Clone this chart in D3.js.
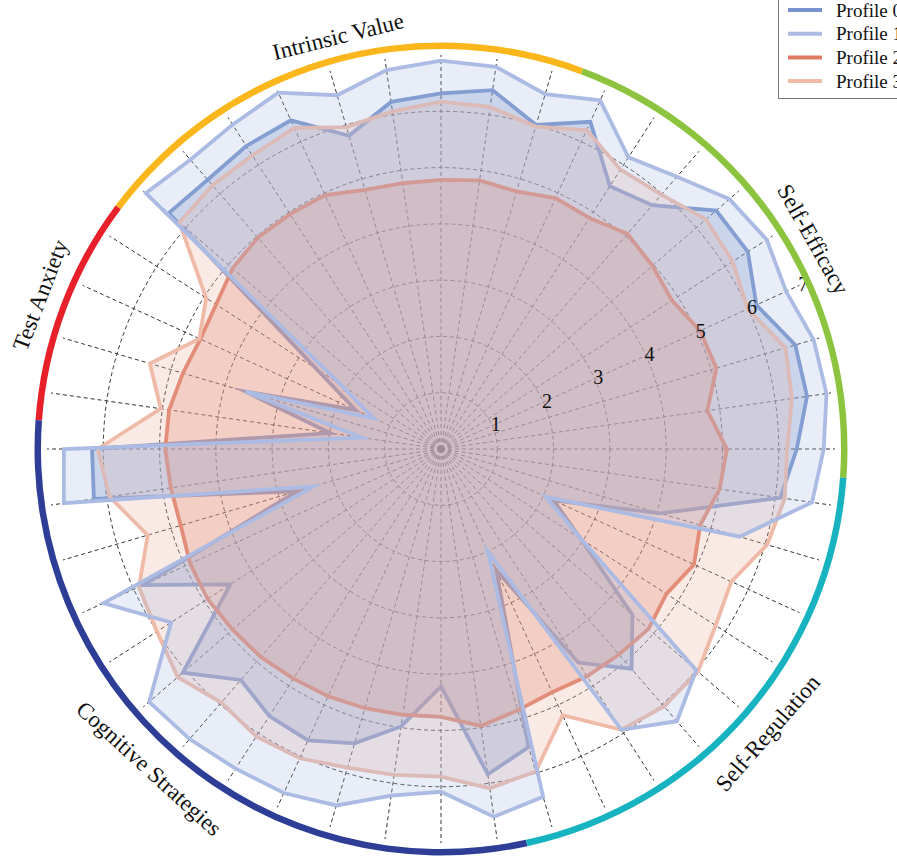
<!DOCTYPE html>
<meta charset="utf-8">
<script src="https://d3js.org/d3.v7.min.js"></script>
<html>
  <head>
    <style>
    body { margin: 0; background: #fff; }
    text { font-family: "Liberation Serif", "DejaVu Serif", serif; fill: #111; }
    </style>
  </head>
  <body>
    <div id="my_dataviz"></div>
  </body>
</html>
<script>

// scale groups, counter-clockwise from the east spoke
var groups = ["Self-Efficacy", "Intrinsic Value", "Test Anxiety", "Cognitive Strategies", "Self-Regulation"];
var groupSizes = [9, 9, 4, 13, 9];
var groupColors = ["#8cc43f", "#fbb61b", "#e8202a", "#2e3e97", "#17b3c1"];

var profiles = ["Profile 0", "Profile 1", "Profile 2", "Profile 3"];
var profileColors = ["#7893cd", "#abbbe3", "#df7a63", "#efbaa8"];
var fillAlpha = [0.3, 0.27, 0.3, 0.3];

var rTicks = [1, 2, 3, 4, 5, 6, 7];

// item means per profile (44 items)
var p0 = [6.32, 6.57, 6.56, 6.16, 6.48, 6.47, 5.73, 5.55, 6.39,
          6.00, 6.44, 6.32, 6.23, 5.80, 6.42, 6.40, 6.33, 6.40,
          2.63, 1.67, 3.62, 1.99,
          6.20, 6.23, 2.67, 5.82, 4.45, 6.07, 5.43, 5.64, 5.69, 5.45, 4.98, 4.22, 5.84,
          5.52, 2.37, 4.51, 5.17, 4.50, 2.95, 2.20, 4.06, 6.09];
var p1 = [6.80, 6.92, 6.90, 6.74, 6.88, 6.78, 6.40, 6.16, 6.81,
          6.57, 6.86, 6.90, 6.80, 6.55, 6.96, 6.85, 6.80, 6.94,
          2.14, 1.32, 3.62, 1.42,
          6.70, 6.77, 2.36, 6.59, 5.70, 6.86, 6.82, 6.75, 6.72, 6.60, 6.22, 6.09, 6.60,
          6.44, 2.00, 5.93, 6.40, 6.00, 2.96, 2.05, 5.53, 6.66];
var p2 = [5.08, 4.78, 5.10, 5.06, 4.88, 4.97, 5.06, 4.88, 4.90,
          4.77, 4.82, 4.78, 4.77, 4.80, 4.96, 4.96, 4.97, 4.90,
          4.75, 4.70, 4.78, 4.88,
          4.90, 4.85, 4.82, 4.90, 4.93, 4.90, 4.89, 4.85, 4.83, 4.80, 4.77, 4.76, 4.97,
          4.84, 4.75, 4.80, 4.83, 4.88, 4.76, 4.94, 4.80, 5.00];
var p3 = [6.15, 6.30, 6.38, 5.99, 6.16, 6.23, 5.98, 5.90, 6.23,
          5.97, 6.14, 6.17, 6.06, 5.96, 6.27, 6.20, 6.20, 6.15,
          4.96, 4.72, 5.39, 5.03,
          6.10, 5.95, 5.43, 5.90, 6.00, 6.19, 5.96, 6.07, 6.04, 5.90, 5.85, 5.82, 6.09,
          5.97, 5.20, 5.93, 6.05, 6.04, 5.80, 5.67, 6.04, 6.17];

var data = [p0, p1, p2, p3];
var drawOrder = [0, 2, 3, 1];

var width = 897, height = 856;
var cx = 441, cy = 449;
var nItems = d3.sum(groupSizes);
var step = 2 * Math.PI / nItems;

var svg = d3.select("#my_dataviz")
  .append("svg")
    .attr("width", width)
    .attr("height", height);

var g = svg.append("g")
    .attr("transform", "translate(" + cx + "," + cy + ")");

// radius scale
var r = d3.scaleLinear()
  .domain([0, 7])
  .range([0, 394]);

// d3 angle (clockwise from 12 o'clock) of item i
var ang = function(i) { return Math.PI / 2 - i * step; };

// ---------------------------//
//         GRID               //
// ---------------------------//
g.append("g")
  .selectAll("circle")
  .data(rTicks.slice(0, 6))
  .enter()
  .append("circle")
    .attr("r", function(d) { return r(d); })
    .style("fill", "none")
    .style("stroke", "#333")
    .style("stroke-width", 1)
    .style("stroke-dasharray", "4,3");

g.append("g")
  .selectAll("line")
  .data(d3.range(nItems))
  .enter()
  .append("line")
    .attr("x1", 0).attr("y1", 0)
    .attr("x2", function(i) { return r(7) * Math.sin(ang(i)); })
    .attr("y2", function(i) { return -r(7) * Math.cos(ang(i)); })
    .style("stroke", "#333")
    .style("stroke-width", 1)
    .style("stroke-dasharray", "4,3");

// ---------------------------//
//         PROFILES           //
// ---------------------------//
var radar = d3.lineRadial()
  .angle(function(d, i) { return ang(i); })
  .radius(function(d) { return r(d); })
  .curve(d3.curveLinearClosed);

drawOrder.forEach(function(p) {
  g.append("path")
    .attr("d", radar(data[p]))
    .style("fill", profileColors[p])
    .style("fill-opacity", fillAlpha[p])
    .style("stroke", "none");
  g.append("path")
    .attr("d", radar(data[p]))
    .style("fill", "none")
    .style("stroke", profileColors[p])
    .style("stroke-width", 3.8)
    .style("stroke-linejoin", "miter")
    .style("stroke-miterlimit", 10);
});

// radial tick labels
var labAng = 24.5 * Math.PI / 180;
g.append("g")
  .selectAll("text")
  .data(rTicks)
  .enter()
  .append("text")
    .attr("x", function(d) { return (r(d) + 4) * Math.cos(labAng); })
    .attr("y", function(d) { return -(r(d) + 4) * Math.sin(labAng); })
    .attr("text-anchor", "middle")
    .attr("dominant-baseline", "central")
    .style("font-size", "20px")
    .text(function(d) { return d; });

// ---------------------------//
//     GROUP ARCS + LABELS    //
// ---------------------------//
var starts = [];
var acc = 0;
groupSizes.forEach(function(n) { starts.push(acc); acc += n; });

var arc = d3.arc()
  .innerRadius(400)
  .outerRadius(406.5);

g.append("g")
  .selectAll("path")
  .data(groups)
  .enter()
  .append("path")
    .attr("d", function(d, i) {
      var k0 = starts[i], k1 = starts[i] + groupSizes[i] - 1;
      return arc({ startAngle: ang(k1 + 0.5), endAngle: ang(k0 - 0.5) });
    })
    .style("fill", function(d, i) { return groupColors[i]; });

// label positions (degrees clockwise from top) and radius
var labelAngles = [60.6, -14, 291, 222.4, 131];
var labelRadius = [427, 425, 429, 433, 433];

g.append("g")
  .selectAll("text")
  .data(groups)
  .enter()
  .append("text")
    .attr("transform", function(d, i) {
      var a = labelAngles[i] * Math.PI / 180;
      var x = labelRadius[i] * Math.sin(a), y = -labelRadius[i] * Math.cos(a);
      var deg = labelAngles[i];
      if (deg > 180) deg -= 360;
      var rot = (deg > 90 || deg < -90) ? deg - 180 : deg;
      if (rot < -180) rot += 360;
      return "translate(" + x + "," + y + ") rotate(" + rot + ")";
    })
    .attr("text-anchor", "middle")
    .attr("dominant-baseline", "central")
    .style("font-size", "23px")
    .text(function(d) { return d; });

// ---------------------------//
//         LEGEND             //
// ---------------------------//
var legend = svg.append("g");
legend.append("rect")
  .attr("x", 778.5).attr("y", -10)
  .attr("width", 140).attr("height", 108.5)
  .style("fill", "white")
  .style("stroke", "#777")
  .style("stroke-width", 1);

legend.selectAll("line")
  .data(profiles)
  .enter()
  .append("line")
    .attr("x1", 788).attr("x2", 822)
    .attr("y1", function(d, i) { return 10 + i * 23.7; })
    .attr("y2", function(d, i) { return 10 + i * 23.7; })
    .style("stroke", function(d, i) { return profileColors[i]; })
    .style("stroke-width", 4);

legend.selectAll("text")
  .data(profiles)
  .enter()
  .append("text")
    .attr("x", 836)
    .attr("y", function(d, i) { return 10 + i * 23.7; })
    .attr("dominant-baseline", "central")
    .style("font-size", "19px")
    .text(function(d) { return d; });

</script>
